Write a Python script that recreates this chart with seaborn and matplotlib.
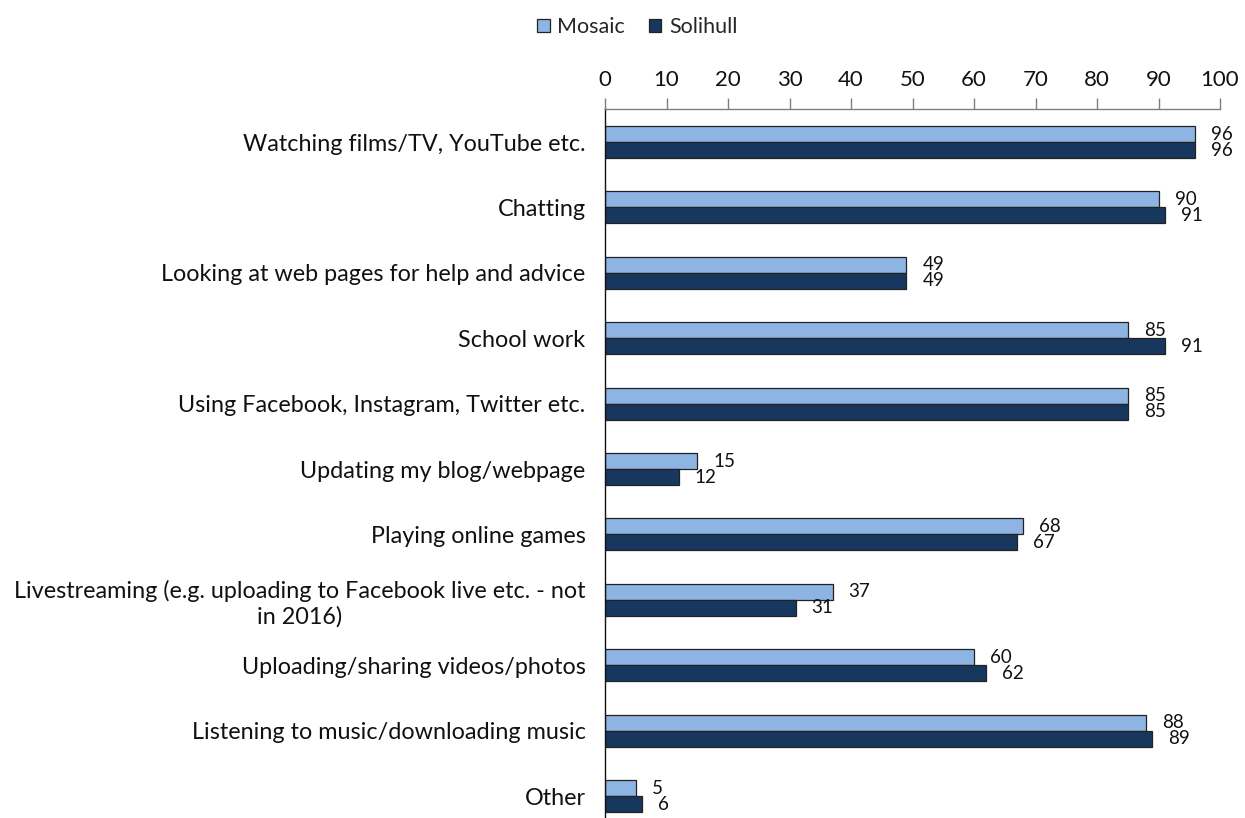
import matplotlib
matplotlib.use("Agg")
import matplotlib.pyplot as plt
import seaborn as sns
import pandas as pd
from matplotlib.patches import Patch

categories = [
    "Watching films/TV, YouTube etc.",
    "Chatting",
    "Looking at web pages for help and advice",
    "School work",
    "Using Facebook, Instagram, Twitter etc.",
    "Updating my blog/webpage",
    "Playing online games",
    "Livestreaming (e.g. uploading to Facebook live etc. - not\nin 2016)",
    "Uploading/sharing videos/photos",
    "Listening to music/downloading music",
    "Other",
]
series_names = ["Mosaic", "Solihull"]
mosaic = [96, 90, 49, 85, 85, 15, 68, 37, 60, 88, 5]
solihull = [96, 91, 49, 91, 85, 12, 67, 31, 62, 89, 6]
x_ticks = [0, 10, 20, 30, 40, 50, 60, 70, 80, 90, 100]

colors = {"Mosaic": "#8EB4E3", "Solihull": "#17375E"}

df = pd.DataFrame({
    "category": categories * 2,
    "series": [series_names[0]] * len(categories) + [series_names[1]] * len(categories),
    "value": mosaic + solihull,
})

sns.set_theme(style="white")
plt.rcParams["font.family"] = ["Lato", "DejaVu Sans"]

fig = plt.figure(figsize=(12.45, 8.18), dpi=100)
ax = fig.add_axes([605 / 1245, 0.0, (1220 - 605) / 1245, 1 - 109 / 818])

sns.barplot(data=df, y="category", x="value", hue="series", order=categories,
            hue_order=series_names, palette=colors, orient="h", width=0.49,
            saturation=1, edgecolor="#222222", linewidth=0.9, ax=ax, legend=False)

ax.set_xlim(0, 100)
ax.set_ylim(10.336, -0.505)
ax.set_xlabel("")
ax.set_ylabel("")
ax.xaxis.tick_top()
ax.set_xticks(x_ticks)
ax.set_xticklabels([str(t) for t in x_ticks])
ax.tick_params(axis="x", which="both", top=True, bottom=False, length=8, width=1,
               color="#7f7f7f", pad=6, labelsize=16, labelcolor="#111111", direction="out")
ax.tick_params(axis="y", length=0, pad=14, labelsize=16.8, labelcolor="#111111")
for lbl in ax.get_yticklabels():
    lbl.set_multialignment("center")

for s in ["right", "bottom"]:
    ax.spines[s].set_visible(False)
ax.spines["top"].set_color("#7f7f7f")
ax.spines["top"].set_linewidth(1)
ax.spines["left"].set_color("#111111")
ax.spines["left"].set_linewidth(1)

# value labels
for cont, vals in zip(ax.containers, [mosaic, solihull]):
    for bar, v in zip(cont, vals):
        y = bar.get_y() + bar.get_height() / 2
        ax.annotate(str(v), xy=(v, y), xytext=(16, 0), textcoords="offset pixels",
                    ha="left", va="center", fontsize=13.5, color="#111111")

# legend
handles = [Patch(facecolor=colors[n], edgecolor="#222222", linewidth=0.9, label=n) for n in series_names]
fig.legend(handles=handles, loc="center", bbox_to_anchor=(637 / 1245, 1 - 27 / 818),
           ncol=2, frameon=False, fontsize=15.5, handlelength=0.6, handleheight=0.6,
           handletextpad=0.35, columnspacing=1.1, borderpad=0.2)

fig.savefig("out.png", dpi=100)
